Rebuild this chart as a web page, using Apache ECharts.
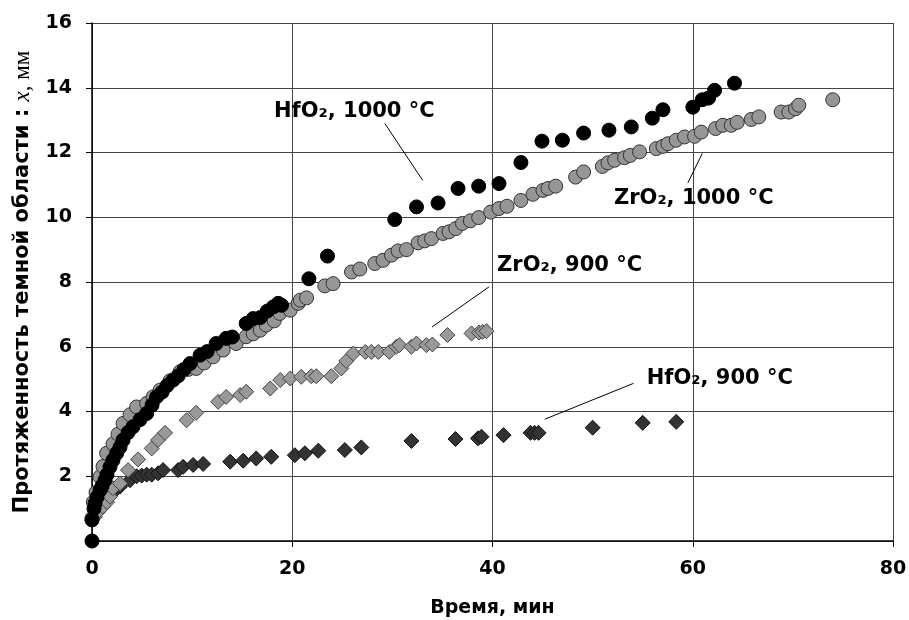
<!DOCTYPE html>
<html>
<head>
<meta charset="utf-8">
<script src="https://cdn.jsdelivr.net/npm/echarts@6/dist/echarts.min.js"></script>
<style>
html,body{margin:0;padding:0;background:#fff;}
#chart{width:909px;height:620px;}
</style>
</head>
<body>
<div id="chart"></div>
<script>
"use strict";

// time, min ; length of dark region, mm
var hfo2_1000=[[0,0],[0,0.65],[0.2,1.0],[0.3,1.16],[0.5,1.35],[0.8,1.57],[1.0,1.7],[1.3,1.88],[1.5,2.05],[1.8,2.29],
  [2.1,2.5],[2.46,2.71],[2.8,2.9],[3.1,3.12],[3.6,3.35],[4.1,3.53],[4.8,3.75],[5.46,3.94],[6.0,4.2],[6.45,4.45],
  [7.0,4.6],[7.5,4.8],[8.1,4.97],[8.6,5.1],[9.2,5.3],[9.8,5.48],[10.8,5.74],[11.5,5.85],[12.4,6.1],[13.4,6.26],
  [14.0,6.3],[15.4,6.72],[16.1,6.87],[16.8,6.9],[17.5,7.1],[18.1,7.23],[18.6,7.34],[18.93,7.28],[21.66,8.10],[23.52,8.80],
  [30.24,9.93],[32.41,10.32],[34.56,10.44],[36.56,10.89],[38.62,10.96],[40.65,11.04],[42.84,11.69],[44.94,12.35],[46.98,12.38],[49.10,12.60],
  [51.63,12.69],[53.86,12.79],[55.96,13.06],[57.02,13.32],[60.01,13.40],[60.95,13.63],[61.58,13.68],[62.18,13.92],[64.17,14.14]];

var zro2_1000=[[0,0.7],[0.13,1.2],[0.4,1.5],[0.8,1.98],[1.1,2.3],[1.46,2.71],[2.1,3.0],[2.6,3.3],[3.1,3.63],[3.8,3.9],
  [4.46,4.14],[5.46,4.25],[6.1,4.45],[6.8,4.66],[7.8,4.95],[8.8,5.23],[9.6,5.3],[10.4,5.33],[11.2,5.5],[12.1,5.69],
  [13.1,5.9],[14.4,6.1],[15.4,6.31],[16.1,6.4],[16.8,6.51],[17.4,6.67],[18.2,6.8],[18.76,7.03],[19.8,7.13],[20.59,7.34],
  [20.8,7.44],[21.43,7.51],[23.25,7.88],[24.08,7.95],[25.92,8.31],[26.75,8.40],[28.24,8.57],[29.07,8.67],[29.91,8.83],[30.57,8.96],
  [31.41,9.00],[32.57,9.21],[33.23,9.27],[33.90,9.34],[35.06,9.50],[35.66,9.55],[36.33,9.65],[37.00,9.81],[37.79,9.89],[38.62,9.99],
  [39.82,10.16],[40.65,10.27],[41.45,10.34],[42.84,10.52],[44.04,10.71],[45.04,10.83],[45.54,10.89],[46.31,10.96],[48.30,11.24],[49.10,11.40],
  [50.97,11.57],[51.53,11.68],[52.20,11.76],[53.19,11.84],[53.76,11.91],[54.69,12.02],[56.36,12.12],[57.02,12.19],[57.52,12.27],[58.35,12.38],
  [59.18,12.48],[60.18,12.50],[60.85,12.63],[62.28,12.74],[63.0,12.84],[63.84,12.84],[64.44,12.93],[65.84,13.02],[66.6,13.10],[68.83,13.25],
  [69.59,13.25],[70.26,13.35],[70.59,13.46],[73.98,13.63]];

var zro2_900=[[0.3,0.75],[0.6,0.9],[1.1,1.06],[1.5,1.2],[1.8,1.37],[2.1,1.63],[2.8,1.78],[3.6,2.19],[4.6,2.52],[5.96,2.86],
  [6.6,3.12],[7.3,3.34],[9.45,3.73],[10.4,3.96],[12.6,4.30],[13.4,4.45],[14.8,4.51],[15.4,4.61],[17.8,4.71],[18.8,4.97],
  [19.8,5.02],[20.9,5.07],[21.9,5.09],[22.4,5.09],[23.9,5.09],[24.9,5.33],[25.4,5.56],[26.1,5.79],[27.3,5.84],[27.9,5.84],
  [28.6,5.84],[29.7,5.84],[30.4,6.0],[30.7,6.05],[31.9,6.0],[32.4,6.1],[33.4,6.05],[34.0,6.07],[35.5,6.36],[37.9,6.41],
  [38.65,6.44],[39.0,6.46],[39.4,6.48]];

var hfo2_900=[[0.5,0.9],[1.0,1.15],[1.5,1.35],[2.1,1.5],[2.8,1.68],[3.8,1.88],[4.46,2.0],[4.96,2.02],[5.46,2.05],[5.96,2.05],
  [6.6,2.09],[7.1,2.19],[8.6,2.19],[9.1,2.29],[10.1,2.35],[11.1,2.38],[13.8,2.45],[15.1,2.48],[16.4,2.55],[17.9,2.60],
  [20.26,2.65],[21.26,2.71],[22.6,2.79],[25.25,2.81],[26.9,2.89],[31.9,3.09],[36.3,3.15],[38.55,3.17],[38.9,3.22],[41.1,3.27],
  [43.8,3.34],[44.2,3.34],[44.6,3.34],[50.0,3.50],[55.0,3.65],[58.35,3.68]];

// labels: text, text position, leader line start, leader line end (data units)
var notes=[
  {text:"HfO₂, 1000 °C", at:[26.2,13.25], from:[29.24,12.90], to:[33.03,11.14]},
  {text:"ZrO₂, 1000 °C", at:[60.1,10.58], from:[59.51,11.06], to:[60.95,11.97]},
  {text:"ZrO₂, 900 °C", at:[47.7,8.5], from:[39.65,7.85], to:[33.96,6.61]},
  {text:"HfO₂, 900 °C", at:[62.7,5.02], from:[54.09,4.87], to:[45.21,3.76]}
];

var FONT="DejaVu Sans";

function scatter(name,data,symbol,fill,border){
  return {
    name:name, type:"scatter", data:data, symbol:symbol,
    symbolSize:symbol=="diamond"?[15,15]:14,
    itemStyle:{color:fill,borderColor:border,borderWidth:1,opacity:1},
    emphasis:{disabled:true}, animation:false
  };
}

var chart=echarts.init(document.getElementById("chart"));

var noteSeries={
  type:"scatter", data:[], silent:true, animation:false,
  markLine:{
    symbol:"none", silent:true, animation:false,
    lineStyle:{color:"#000",width:1,type:"solid"},
    label:{show:false},
    data:notes.map(function(n){return [{coord:n.from},{coord:n.to}];})
  },
  markPoint:{
    symbol:"circle", symbolSize:0, silent:true, animation:false,
    label:{show:true,position:"inside",color:"#000",fontFamily:FONT,fontWeight:"bold",fontSize:21,
      formatter:function(p){return p.name;}},
    data:notes.map(function(n){return {name:n.text,coord:n.at};})
  }
};

chart.setOption({
  backgroundColor:"#fff",
  animation:false,
  grid:{left:92,top:23,width:801,height:518,containLabel:false,outerBoundsMode:"none"},
  xAxis:{
    type:"value", min:0, max:80, interval:20,
    name:"Время, мин", nameLocation:"middle", nameGap:58,
    nameTextStyle:{fontFamily:FONT,fontWeight:"bold",fontSize:19,color:"#000"},
    axisLine:{show:true,onZero:false,lineStyle:{color:"#000",width:1.5}},
    axisTick:{show:true,inside:false,length:6,lineStyle:{color:"#000"}},
    axisLabel:{fontFamily:FONT,fontWeight:"bold",fontSize:19,color:"#000",margin:19},
    splitLine:{show:true,lineStyle:{color:"#444",width:1}}
  },
  yAxis:{
    type:"value", min:0, max:16, interval:2,
    name:"{a|Протяженность темной области : }{b|x}{c|, мм}", nameLocation:"middle", nameGap:58,
    nameTextStyle:{
      rich:{
        a:{fontFamily:FONT,fontWeight:"bold",fontSize:21,color:"#000"},
        b:{fontFamily:"Liberation Serif",fontStyle:"italic",fontSize:23,color:"#000"},
        c:{fontFamily:"Liberation Serif",fontSize:23,color:"#000"}
      }
    },
    axisLine:{show:true,onZero:false,lineStyle:{color:"#000",width:1.5}},
    axisTick:{show:true,inside:false,length:6,lineStyle:{color:"#000"}},
    axisLabel:{fontFamily:FONT,fontWeight:"bold",fontSize:19,color:"#000",margin:20,
      formatter:function(v){return v===0?"":String(v);}},
    splitLine:{show:true,lineStyle:{color:"#444",width:1}}
  },
  series:[
    scatter("HfO2 900",hfo2_900,"diamond","#333333","#111111"),
    scatter("ZrO2 900",zro2_900,"diamond","#999999","#444444"),
    scatter("ZrO2 1000",zro2_1000,"circle","#969696","#333333"),
    scatter("HfO2 1000",hfo2_1000,"circle","#000000","#000000"),
    noteSeries
  ]
});
</script>
</body>
</html>
